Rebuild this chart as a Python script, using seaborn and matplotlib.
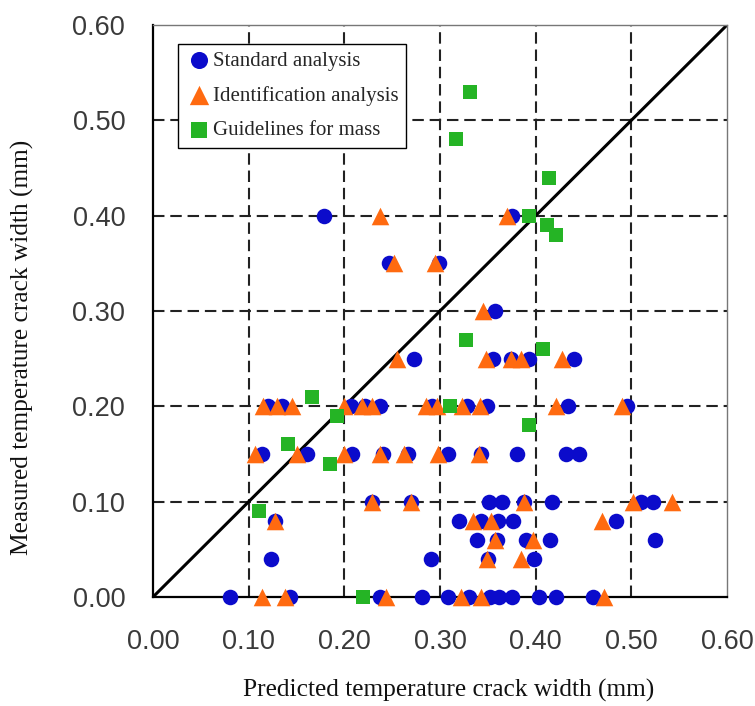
import numpy as np
import pandas as pd
import matplotlib
matplotlib.use("Agg")
import matplotlib.pyplot as plt
import seaborn as sns

# ---- data ----
std_x = [0.179, 0.375,
         0.247, 0.299,
         0.358,
         0.273, 0.355, 0.374, 0.393, 0.44,
         0.12, 0.135, 0.207, 0.222, 0.237, 0.292, 0.328, 0.349, 0.434, 0.495,
         0.114, 0.161, 0.208, 0.240, 0.267, 0.308, 0.343, 0.380, 0.432, 0.445,
         0.229, 0.270, 0.351, 0.365, 0.388, 0.417, 0.51, 0.523,
         0.128, 0.320, 0.343, 0.361, 0.376, 0.484,
         0.339, 0.36, 0.39, 0.415, 0.525,
         0.123, 0.291, 0.35, 0.398,
         0.081, 0.143, 0.237, 0.281, 0.308, 0.330, 0.352, 0.362, 0.375, 0.404, 0.421, 0.46]
std_y = [0.40, 0.40,
         0.35, 0.35,
         0.30,
         0.25, 0.25, 0.25, 0.25, 0.25,
         0.20, 0.20, 0.20, 0.20, 0.20, 0.20, 0.20, 0.20, 0.20, 0.20,
         0.15, 0.15, 0.15, 0.15, 0.15, 0.15, 0.15, 0.15, 0.15, 0.15,
         0.10, 0.10, 0.10, 0.10, 0.10, 0.10, 0.10, 0.10,
         0.08, 0.08, 0.08, 0.08, 0.08, 0.08,
         0.06, 0.06, 0.06, 0.06, 0.06,
         0.04, 0.04, 0.04, 0.04,
         0.0, 0.0, 0.0, 0.0, 0.0, 0.0, 0.0, 0.0, 0.0, 0.0, 0.0, 0.0]

idf_x = [0.237, 0.370,
         0.252, 0.295,
         0.345,
         0.255, 0.348, 0.374, 0.385, 0.428,
         0.115, 0.13, 0.145, 0.20, 0.218, 0.229, 0.285, 0.297, 0.323, 0.342, 0.421, 0.49,
         0.107, 0.150, 0.200, 0.237, 0.262, 0.298, 0.341,
         0.229, 0.270, 0.388, 0.502, 0.542,
         0.128, 0.334, 0.353, 0.469,
         0.358, 0.397,
         0.349, 0.385,
         0.114, 0.138, 0.244, 0.322, 0.343, 0.471]
idf_y = [0.40, 0.40,
         0.35, 0.35,
         0.30,
         0.25, 0.25, 0.25, 0.25, 0.25,
         0.20, 0.20, 0.20, 0.20, 0.20, 0.20, 0.20, 0.20, 0.20, 0.20, 0.20, 0.20,
         0.15, 0.15, 0.15, 0.15, 0.15, 0.15, 0.15,
         0.10, 0.10, 0.10, 0.10, 0.10,
         0.08, 0.08, 0.08, 0.08,
         0.06, 0.06,
         0.04, 0.04,
         0.0, 0.0, 0.0, 0.0, 0.0, 0.0]

gdl_x = [0.331, 0.317, 0.414, 0.393, 0.412, 0.421, 0.327, 0.408,
         0.166, 0.310, 0.192, 0.393, 0.141, 0.185, 0.111, 0.219]
gdl_y = [0.53, 0.48, 0.44, 0.40, 0.39, 0.38, 0.27, 0.26,
         0.21, 0.20, 0.19, 0.18, 0.16, 0.14, 0.09, 0.00]

series_names = ["Standard analysis", "Identification analysis", "Guidelines for mass"]
ticks = [0.0, 0.1, 0.2, 0.3, 0.4, 0.5, 0.6]
tick_labels = ["0.00", "0.10", "0.20", "0.30", "0.40", "0.50", "0.60"]

df = pd.concat([
    pd.DataFrame({"x": std_x, "y": std_y, "series": series_names[0]}),
    pd.DataFrame({"x": idf_x, "y": idf_y, "series": series_names[1]}),
    pd.DataFrame({"x": gdl_x, "y": gdl_y, "series": series_names[2]}),
])

sns.set_style("white")
plt.rcParams["font.family"] = ["Liberation Sans", "DejaVu Sans"]

fig = plt.figure(figsize=(7.55, 7.06), dpi=100)
ax = fig.add_axes([153 / 755, 1 - 597 / 706, (727 - 153) / 755, (597 - 25) / 706])

colors = ["#0B0BCB", "#FF6A10", "#25B425"]
markers = ["o", "^", "s"]
sizes = [125, 160, 110]
for name, c, m, s in zip(series_names, colors, markers, sizes):
    sns.scatterplot(data=df[df["series"] == name], x="x", y="y", color=c, marker=m,
                    s=s, linewidth=0, ax=ax, label=name, zorder=3)
for coll in ax.collections:
    coll.set_clip_on(False)

ax.plot([0, 0.6], [0, 0.6], color="black", lw=2.2, zorder=2)

ax.set_xlim(0, 0.6)
ax.set_ylim(0, 0.6)
ax.set_xticks(ticks)
ax.set_yticks(ticks)
ax.set_xticklabels(tick_labels)
ax.set_yticklabels(tick_labels)
ax.tick_params(axis="both", length=0, labelsize=19.5, colors="#3a3a3a")
ax.tick_params(axis="x", pad=23)
ax.tick_params(axis="y", pad=20)

for v in ticks[1:-1]:
    ax.axvline(v, color="#222222", lw=1.5, ls=(0, (5.5, 2.8)), zorder=1)
    ax.axhline(v, color="#222222", lw=1.5, ls=(0, (5.5, 2.8)), zorder=1)

for side in ["left", "bottom"]:
    ax.spines[side].set_color("black")
    ax.spines[side].set_linewidth(1.6)
for side in ["top", "right"]:
    ax.spines[side].set_color("#777777")
    ax.spines[side].set_linewidth(1.0)

serif = ["Liberation Serif", "DejaVu Serif"]
ax.set_xlabel("Predicted temperature crack width (mm)", family=serif, fontsize=18.3,
              color="#111111", va="center", ha="center")
ax.set_ylabel("Measured temperature crack width (mm)", family=serif, fontsize=18.3,
              color="#111111", va="center", ha="center")
ax.xaxis.set_label_coords((449 - 153) / 574, (597 - 690) / 572)
ax.yaxis.set_label_coords((22 - 153) / 574, (597 - 347) / 572)

leg = ax.legend(loc="upper left", bbox_to_anchor=(25 / 574, 1 - 19 / 572),
                prop={"family": serif, "size": 15}, frameon=True, fancybox=False,
                edgecolor="black", framealpha=1, handletextpad=0.05, borderpad=0.35,
                labelspacing=0.72, handlelength=1.3, borderaxespad=0, markerscale=1.1)
leg.get_frame().set_linewidth(1.0)

fig.savefig("out.png", dpi=100)
